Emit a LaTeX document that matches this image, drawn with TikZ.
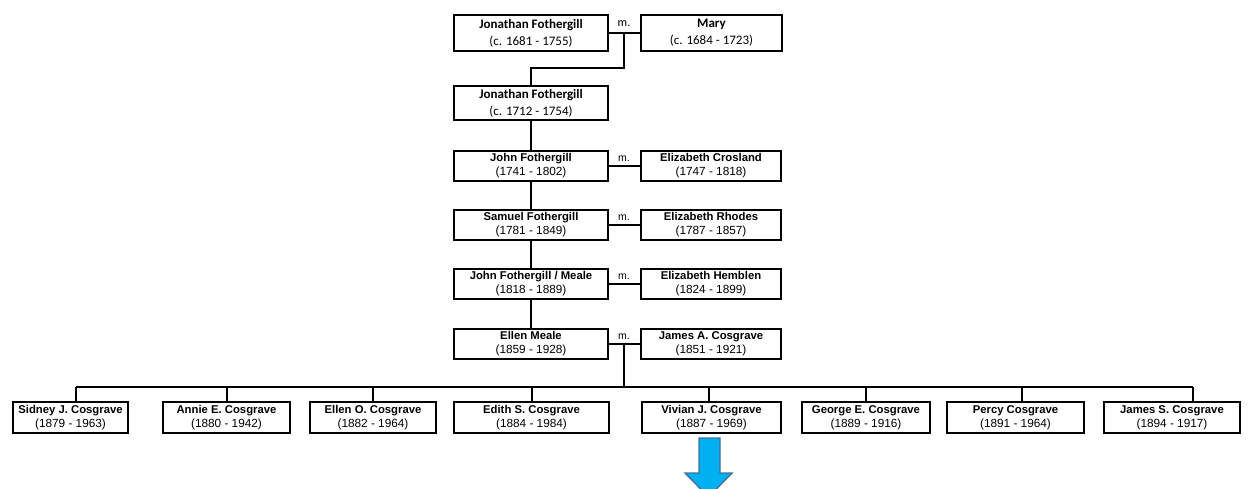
\documentclass[tikz,border=0pt]{standalone}
\usepackage{fontspec}
\setmainfont{Liberation Sans}
\newfontfamily\calibrifont{Carlito}
\newcommand\pname[1]{{\fontsize{11.3}{14.2}\selectfont\textbf{#1}}}
\begin{document}
\begin{tikzpicture}[x=1pt,y=-1pt,
  pbox/.style={draw, line width=2pt, inner sep=0pt, align=center, fill=white,
     font=\fontsize{11.8}{14.2}\selectfont},
  cbox/.style={pbox, font=\calibrifont\fontsize{13}{17}\selectfont},
  conn/.style={line width=2pt},
  mlab/.style={inner sep=0pt, font=\fontsize{10.5}{12}\selectfont},
  cmlab/.style={inner sep=0pt, font=\calibrifont\fontsize{12}{14}\selectfont},
  blockarrow/.style={fill={rgb,255:red,0;green,176;blue,240}, draw={rgb,255:red,65;green,113;blue,156}, line width=1.4pt, line join=miter}
]
\useasboundingbox (0,0) rectangle (1248,488);

% generation 1
\node[cbox, minimum width=154, minimum height=36] (jon1) at (531,33) {\textbf{Jonathan Fothergill}\\(c. 1681 - 1755)};
\node[cbox, minimum width=141, minimum height=36] (mary) at (711.5,33) {\textbf{Mary}\\(c. 1684 - 1723)};
\node[cmlab] (m1) at (624,24) {m.};
% generation 2
\node[cbox, minimum width=154, minimum height=34] (jon2) at (531,103) {\textbf{Jonathan Fothergill}\\(c. 1712 - 1754)};
% generation 3
\node[pbox, minimum width=154, minimum height=30] (john1) at (531,166) {\pname{John Fothergill}\\(1741 - 1802)};
\node[pbox, minimum width=140, minimum height=30] (ecros) at (711,166) {\pname{Elizabeth Crosland}\\(1747 - 1818)};
\node[mlab] (m3) at (624,159) {m.};
% generation 4
\node[pbox, minimum width=154, minimum height=30] (sam) at (531,225) {\pname{Samuel Fothergill}\\(1781 - 1849)};
\node[pbox, minimum width=140, minimum height=30] (erho) at (711,225) {\pname{Elizabeth Rhodes}\\(1787 - 1857)};
\node[mlab] (m4) at (624,218) {m.};
% generation 5
\node[pbox, minimum width=154, minimum height=30] (john2) at (531,284) {\pname{John Fothergill / Meale}\\(1818 - 1889)};
\node[pbox, minimum width=140, minimum height=30] (ehem) at (711,284) {\pname{Elizabeth Hemblen}\\(1824 - 1899)};
\node[mlab] (m5) at (624,277) {m.};
% generation 6
\node[pbox, minimum width=154, minimum height=30] (ellen) at (531,344) {\pname{Ellen Meale}\\(1859 - 1928)};
\node[pbox, minimum width=140, minimum height=30] (jac) at (711,344) {\pname{James A. Cosgrave}\\(1851 - 1921)};
\node[mlab] (m6) at (624,337) {m.};

% children
\node[pbox, minimum width=115, minimum height=31] (sid) at (70.5,417.5) {\pname{Sidney J. Cosgrave}\\(1879 - 1963)};
\node[pbox, minimum width=127, minimum height=31] (ann) at (226.5,417.5) {\pname{Annie E. Cosgrave}\\(1880 - 1942)};
\node[pbox, minimum width=126, minimum height=31] (eln) at (373,417.5) {\pname{Ellen O. Cosgrave}\\(1882 - 1964)};
\node[pbox, minimum width=155, minimum height=31] (edi) at (531.5,417.5) {\pname{Edith S. Cosgrave}\\(1884 - 1984)};
\node[pbox, minimum width=139, minimum height=31] (viv) at (711.5,417.5) {\pname{Vivian J. Cosgrave}\\(1887 - 1969)};
\node[pbox, minimum width=128, minimum height=31] (geo) at (866,417.5) {\pname{George E. Cosgrave}\\(1889 - 1916)};
\node[pbox, minimum width=137, minimum height=31] (per) at (1015.5,417.5) {\pname{Percy Cosgrave}\\(1891 - 1964)};
\node[pbox, minimum width=136, minimum height=31] (jsc) at (1172,417.5) {\pname{James S. Cosgrave}\\(1894 - 1917)};

% connectors
\coordinate (c1) at (624,33);
\coordinate (c6) at (624,344);
\coordinate (busL) at (76,387);
\coordinate (busR) at (1193,387);
\coordinate (busM) at (624,387);
\draw[conn] (jon1.east) -- (mary.west);
\draw[conn] (c1) -- ++(0,35) -| (jon2.north);
\draw[conn] (jon2.south) -- (john1.north);
\draw[conn] (john1.east) -- (ecros.west);
\draw[conn] (john1.south) -- (sam.north);
\draw[conn] (sam.east) -- (erho.west);
\draw[conn] (sam.south) -- (john2.north);
\draw[conn] (john2.east) -- (ehem.west);
\draw[conn] (john2.south) -- (ellen.north);
\draw[conn] (ellen.east) -- (jac.west);
\draw[conn] (c6) -- (busM);
\draw[conn] (busL) -- (busR);
\coordinate (s1) at (76,387);
\coordinate (s2) at (227,387);
\coordinate (s3) at (373,387);
\coordinate (s4) at (532,387);
\coordinate (s5) at (709,387);
\coordinate (s6) at (866,387);
\coordinate (s7) at (1022,387);
\coordinate (s8) at (1193,387);
\draw[conn] (s1) -- (s1 |- sid.north);
\draw[conn] (s2) -- (s2 |- ann.north);
\draw[conn] (s3) -- (s3 |- eln.north);
\draw[conn] (s4) -- (s4 |- edi.north);
\draw[conn] (s5) -- (s5 |- viv.north);
\draw[conn] (s6) -- (s6 |- geo.north);
\draw[conn] (s7) -- (s7 |- per.north);
\draw[conn] (s8) -- (s8 |- jsc.north);

% block arrow (cut by page edge)
\begin{scope}
\clip (0,0) rectangle (1248,488);
\draw[blockarrow] (699,438) -- (720,438) -- (720,473) -- (732,473) -- (708.5,497) -- (685,473) -- (699,473) -- cycle;
\end{scope}
\end{tikzpicture}
\end{document}
